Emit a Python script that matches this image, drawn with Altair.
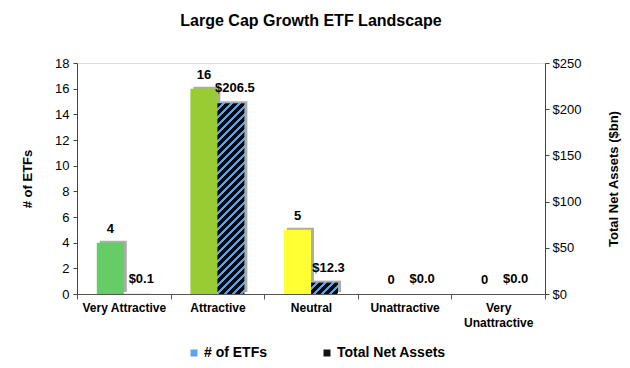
import altair as alt
import pandas as pd

# ---- data ----
categories = ["Very Attractive", "Attractive", "Neutral", "Unattractive", "Very Unattractive"]
etf_counts = [4, 16, 5, 0, 0]
net_assets = [0.1, 206.5, 12.3, 0.0, 0.0]
bar_colors = ["#66CC66", "#99CC33", "#FFFF33", "#B3B3B3", "#B3B3B3"]
etf_ticks = [0, 2, 4, 6, 8, 10, 12, 14, 16, 18]
tna_ticks = [0, 50, 100, 150, 200, 250]
series = ["# of ETFs", "Total Net Assets"]
series_colors = ["#5BA3F5", "#111111"]

FONT = "Liberation Sans"
PLOT_W, PLOT_H = 468, 231
BAR_W = 27
HALF = BAR_W / 2
TNA_MAX = 250
HATCH_BLUE = "#55A5F5"
HATCH_BLACK = "#0A0A0A"
SHADOW = "#A3A3A3"

df = pd.DataFrame({"category": categories, "etfs": etf_counts, "tna": net_assets})
df["etf_label"] = df["etfs"].map(lambda v: f"{v}")
df["tna_label"] = df["tna"].map(lambda v: f"${v:.1f}")


def hatch(w, h, period=8.0, blue_frac=0.38):
    """Diagonal '/' stripes as a linear gradient in bounding-box units."""
    L = w + h
    a = L / (w * w + h * h)
    stops = []
    k = 0
    while k * period < L:
        s = k * period / L
        m = min((k * period + period * (1 - blue_frac)) / L, 1.0)
        e = min((k + 1) * period / L, 1.0)
        stops += [
            alt.GradientStop(color=HATCH_BLACK, offset=s),
            alt.GradientStop(color=HATCH_BLACK, offset=m),
            alt.GradientStop(color=HATCH_BLUE, offset=m),
            alt.GradientStop(color=HATCH_BLUE, offset=e),
        ]
        k += 1
    return alt.LinearGradient(gradient="linear", stops=stops, x1=0, y1=0, x2=a * w, y2=a * h)


x_axis = alt.Axis(
    title=None, labelAngle=0, tickBand="extent", tickSize=5, labelPadding=3,
    labelFont=FONT, labelFontSize=12, labelFontWeight="bold", labelColor="#000000",
    labelLimit=200, labelLineHeight=15,
    labelExpr="datum.label == 'Very Unattractive' ? ['Very', 'Unattractive'] : datum.label",
    domainColor="#555555", tickColor="#555555", grid=False,
)
x_enc = alt.X("category:N", sort=categories,
              scale=alt.Scale(domain=categories, paddingInner=0, paddingOuter=0), axis=x_axis)

etf_axis = alt.Axis(
    orient="left", values=etf_ticks, title="# of ETFs", grid=False,
    labelFont=FONT, labelFontSize=13, labelColor="#000000", labelPadding=4,
    titleFont=FONT, titleFontSize=13, titleFontWeight="bold", titleColor="#000000",
    titlePadding=20, tickSize=4, domainColor="#444444", tickColor="#444444",
)
tna_axis = alt.Axis(
    orient="right", values=tna_ticks, format="$.0f", title="Total Net Assets ($bn)",
    grid=False, titleAngle=270,
    labelFont=FONT, labelFontSize=13, labelColor="#000000", labelPadding=3,
    titleFont=FONT, titleFontSize=13, titleFontWeight="bold", titleColor="#000000",
    titlePadding=40, tickSize=4, domainColor="#444444", tickColor="#444444",
)
y_etf = alt.Y("etfs:Q", scale=alt.Scale(domain=[0, 18], nice=False), axis=etf_axis)
y_tna = alt.Y("tna:Q", scale=alt.Scale(domain=[0, TNA_MAX], nice=False), axis=tna_axis)

base = alt.Chart(df)

# ---- # of ETFs group (left axis) ----
etf_shadow = base.mark_bar(width=BAR_W, xOffset=-HALF + 3, x2Offset=-HALF + 3, yOffset=-2,
                           fill=SHADOW, opacity=0.9).encode(x=x_enc, y=y_etf)
etf_bars = base.mark_bar(width=BAR_W, xOffset=-HALF, x2Offset=-HALF).encode(
    x=x_enc, y=y_etf,
    color=alt.Color("category:N", scale=alt.Scale(domain=categories, range=bar_colors), legend=None),
)
etf_text = base.mark_text(dx=-HALF, dy=-10, baseline="alphabetic", font=FONT, fontSize=13,
                          fontWeight="bold", color="#000000").encode(x=x_enc, y=y_etf, text="etf_label:N")

legend_layer = alt.Chart(pd.DataFrame({"series": series})).mark_square(opacity=0).encode(
    fill=alt.Fill("series:N", scale=alt.Scale(domain=series, range=series_colors),
                  legend=alt.Legend(orient="none", legendX=110, legendY=283, direction="horizontal",
                                    title=None, symbolType="square", symbolSize=49, symbolOpacity=1,
                                    symbolStrokeWidth=0, labelFont=FONT, labelFontSize=14,
                                    labelFontWeight="bold", labelColor="#000000", columnPadding=52,
                                    labelOffset=3, padding=0))
)

etf_group = alt.layer(etf_shadow, etf_bars, etf_text, legend_layer)

# ---- Total Net Assets group (right axis) ----
tna_layers = [base.mark_bar(width=BAR_W, xOffset=HALF + 3, x2Offset=HALF + 3, yOffset=-2,
                            fill=SHADOW, opacity=0.9).encode(x=x_enc, y=y_tna)]
for cat, val in zip(categories, net_assets):
    h = val / TNA_MAX * PLOT_H
    fill = hatch(BAR_W, h) if h > 3 else HATCH_BLACK
    tna_layers.append(
        base.transform_filter(alt.datum.category == cat)
        .mark_bar(width=BAR_W, xOffset=HALF, x2Offset=HALF, fill=fill)
        .encode(x=x_enc, y=y_tna)
    )
tna_layers.append(
    base.mark_text(dx=HALF + 4, dy=-11, baseline="alphabetic", font=FONT, fontSize=13,
                   fontWeight="bold", color="#000000").encode(x=x_enc, y=y_tna, text="tna_label:N")
)
tna_group = alt.layer(*tna_layers)

chart = (
    alt.layer(etf_group, tna_group)
    .resolve_scale(y="independent")
    .properties(
        width=PLOT_W, height=PLOT_H,
        autosize=alt.AutoSizeParams(type="none"),
        padding={"left": 69, "top": 55, "right": 77, "bottom": 70},
        title=alt.TitleParams("Large Cap Growth ETF Landscape", font=FONT, fontSize=16,
                              fontWeight="bold", color="#000000", anchor="middle", offset=28),
    )
    .configure_view(strokeWidth=0)
    .configure(font=FONT, background="#FFFFFF")
)

chart.save("out.html", embed_options={"renderer": "svg", "actions": False})
